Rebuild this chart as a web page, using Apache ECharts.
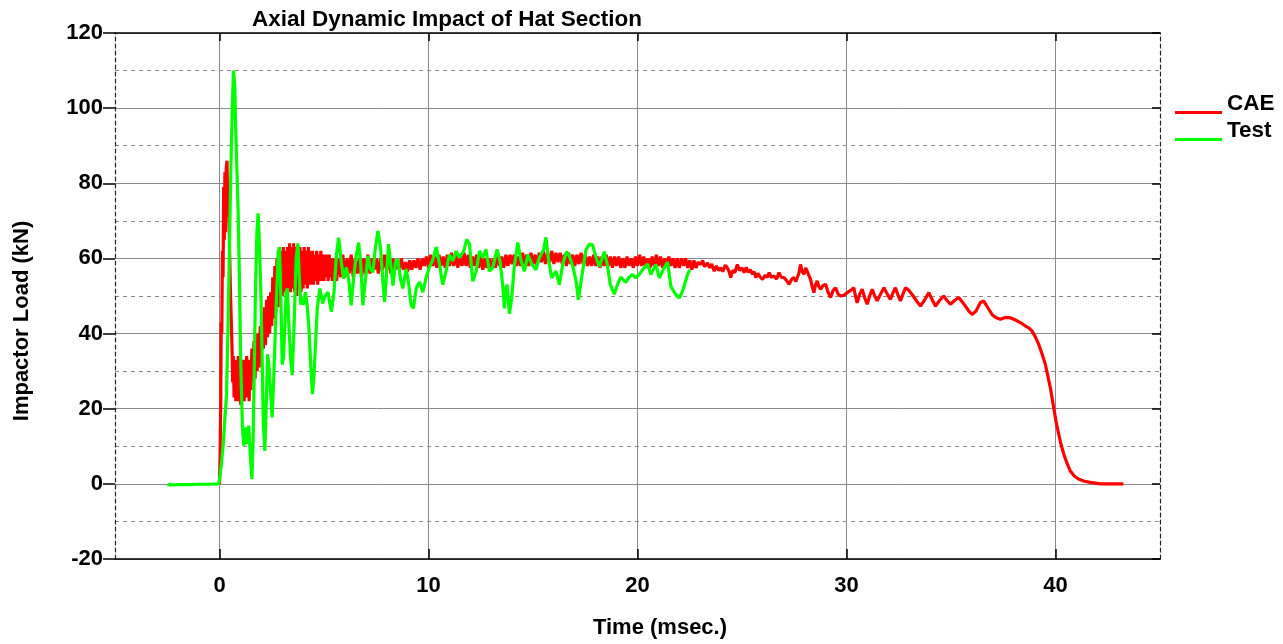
<!DOCTYPE html>
<html>
<head>
<meta charset="utf-8">
<script src="https://cdn.jsdelivr.net/npm/echarts@6/dist/echarts.min.js"></script>
<style>
html,body{margin:0;padding:0;background:#fff;}
#chart{width:1283px;height:644px;}
</style>
</head>
<body>
<div id="chart"></div>
<script>
// ---- data (time in msec., load in kN) ----
var chartTitle = 'Axial Dynamic Impact of Hat Section';
var seriesNames = ['CAE', 'Test'];
var xTickLabels = [0, 10, 20, 30, 40];
var yTickLabels = [-20, 0, 20, 40, 60, 80, 100, 120];

var caeEarly = [
[0,0],[0.03,8],[0.06,22],[0.08,43],[0.11,40],[0.14,62],[0.17,55],[0.2,79],[0.23,65],[0.26,83],[0.29,67],[0.32,84],[0.36,86],[0.4,71],[0.44,80],[0.48,63],[0.52,52],[0.56,44],[0.6,36],[0.63,27],[0.66,34],[0.7,23],[0.74,33],[0.78,22],[0.82,31],[0.86,23],[0.9,34],[0.94,22],[0.98,32],[1.02,21],[1.06,30],[1.1,23],[1.14,33],[1.18,22],[1.22,31],[1.26,23],[1.3,34],[1.34,24],[1.38,33],[1.42,22],[1.46,32],[1.5,25],[1.55,36],[1.6,27],[1.65,38],[1.7,28],[1.75,40],[1.8,30],[1.85,40],[1.9,31],[1.95,42],[2.0,33],[2.05,45],[2.1,36],[2.15,47],[2.2,37],[2.25,49],[2.3,39],[2.35,50],[2.4,40],[2.45,51],[2.5,42],[2.55,55],[2.6,44],[2.65,58],[2.7,46],[2.75,60],[2.8,47],[2.85,61],[2.9,49],[2.95,62],[3.0,50],[3.05,63],[3.1,51],[3.15,62],[3.2,50],[3.25,63],[3.3,52],[3.35,64],[3.4,51],[3.45,63],[3.5,52],[3.55,64],[3.6,51],[3.65,63],[3.7,50],[3.75,62],[3.8,52],[3.85,63],[3.9,51],[3.95,62],[4.0,52],[4.05,63],[4.1,53],[4.15,62],[4.2,52],[4.25,63],[4.3,53],[4.35,62],[4.4,53],[4.45,62],[4.5,53],[4.55,61],[4.6,54],[4.65,62],[4.7,53],[4.75,61],[4.8,54],[4.85,62],[4.9,54],[4.95,61],[5.0,54],[5.05,61],[5.1,55],[5.15,61],[5.2,54],[5.25,61],[5.3,55],[5.35,60],[5.4,54]
];
var caeMiddle = [
[5.5,60],[5.6,54],[5.7,60],[5.8,55],[5.9,61],[6.0,55],[6.1,60],[6.2,56],[6.3,61],[6.4,55],[6.5,60],[6.6,56],[6.7,60],[6.8,55],[6.9,60],[7.0,56],[7.1,61],[7.2,56],[7.3,60],[7.4,57],[7.5,60],[7.6,56],[7.7,60],[7.8,57],[7.9,61],[8.0,57],[8.1,60],[8.2,56],[8.3,60],[8.4,57],[8.5,59.5],[8.6,57],[8.7,60],[8.8,57],[8.9,59],[9.0,56.5],[9.1,59.5],[9.2,57],[9.3,59.5],[9.4,57.5],[9.5,60],[9.6,57],[9.7,60],[9.8,58],[9.9,60.5],[10.0,57.5],
[10.1,61],[10.2,58],[10.3,60.5],[10.4,57.5],[10.5,61],[10.6,58],[10.7,60.5],[10.8,57.5],[10.9,61],[11.0,58],[11.1,61.5],[11.2,58],[11.3,61],[11.4,57.5],[11.5,60.5],[11.6,58],[11.7,61.5],[11.8,58],[11.9,61],[12.0,57.5],[12.1,60.5],[12.2,58],[12.3,61],[12.4,57.5],[12.5,60.5],[12.6,57],[12.7,60],[12.8,57.5],[12.9,60],[13.0,57],[13.1,60],[13.2,57.5],[13.3,61],[13.4,58],[13.5,60.5],[13.6,57.5],[13.7,61],[13.8,58],[13.9,61],[14.0,58.5],[14.1,61],[14.2,58],[14.3,60.5],[14.4,58],[14.5,61.5],[14.6,58.5],[14.7,61],[14.8,58],[14.9,61.5],[15.0,58.5],[15.1,61],[15.2,58],[15.3,61.5],[15.4,59],[15.5,62],[15.6,58.5],[15.7,61.5],[15.8,59],[15.9,62],[16.0,58.5],[16.1,61.5],[16.2,59],[16.3,61.5],[16.4,58.5],[16.5,61],[16.6,58],[16.7,61.5],[16.8,58.5],[16.9,61],[17.0,58],[17.1,61],[17.2,58.5],[17.3,61.5],[17.4,58.5],[17.5,61],[17.6,58],[17.7,60.5],[17.8,58],[17.9,61],[18.0,58],[18.1,60.5],[18.2,57.5],[18.3,60.5],[18.4,58],[18.5,61],[18.6,58],[18.7,60.5],[18.8,57.5],[18.9,60.5],[19.0,58],[19.1,60.5],[19.2,57.5],[19.3,60],[19.4,57.5],[19.5,60.5],[19.6,58],[19.7,60],[19.8,57.5],[19.9,60.5],[20.0,58],[20.1,61],[20.2,58],[20.3,60.5],[20.4,57.5],[20.5,60],[20.6,57.5],[20.7,60.5],[20.8,58],[20.9,61],[21.0,58],[21.1,60.5],[21.2,57.5],[21.3,60],[21.4,58],[21.5,60.5],[21.6,58],[21.7,60],[21.8,57.5],[21.9,60],[22.0,57.5],[22.1,60],[22.2,58],[22.3,60],[22.4,57.5],[22.5,59.5],[22.6,57],[22.7,59.5],[22.8,57.5],[22.9,59]
];
var caeLate = [
[23.03,58.4],[23.12,59.5],[23.2,57.8],[23.35,58.8],[23.45,57.5],[23.55,58.5],[23.67,56.6],[23.78,58],[23.88,56.8],[23.98,57.5],[24.08,56.5],[24.2,58.2],[24.3,57.5],[24.38,56.5],[24.46,54.9],[24.55,56.8],[24.65,56.2],[24.78,58.4],[24.88,56.8],[25.0,57.5],[25.1,56.2],[25.2,57.6],[25.3,56.3],[25.4,57],[25.5,55.8],[25.58,56.5],[25.66,54.9],[25.76,56],[25.85,55.2],[25.98,54.4],[26.1,55.5],[26.2,55],[26.3,56.2],[26.4,55],[26.53,55.3],[26.65,54.5],[26.77,56.2],[26.88,55],[27.01,54.9],[27.12,54.2],[27.25,53.1],[27.38,54.5],[27.49,54.9],[27.57,53.8],[27.65,53.5],[27.72,56],[27.8,58.4],[27.88,56.5],[27.97,55.8],[28.05,57.5],[28.12,57],[28.2,55.5],[28.28,54.4],[28.36,52.5],[28.44,50.9],[28.52,53],[28.6,54],[28.68,52.5],[28.76,51.8],[28.88,52.8],[29.0,53.1],[29.12,51],[29.24,49.6],[29.36,51.5],[29.48,52.2],[29.6,50.5],[29.72,50],[29.88,50.2],[30.04,50.9],[30.2,51.5],[30.35,52.2],[30.43,50],[30.51,48.2],[30.63,50.5],[30.75,51.8],[30.87,49.5],[30.99,47.8],[31.11,50],[31.23,51.8],[31.35,50],[31.47,48.7],[31.63,50.5],[31.79,52.2],[31.95,50.5],[32.1,49.1],[32.22,50.8],[32.34,52.2],[32.46,50.3],[32.58,48.7],[32.7,50.5],[32.82,52.2],[32.98,51.5],[33.14,50.4],[33.34,48.8],[33.54,47.3],[33.74,49],[33.94,50.9],[34.1,49],[34.26,47.3],[34.45,48.8],[34.65,50],[34.81,48.8],[34.97,47.8],[35.17,48.8],[35.37,49.6],[35.53,48.5],[35.69,47.3],[35.85,46],[36.01,45.1],[36.2,46],[36.4,48.2],[36.56,48.7],[36.75,47],[36.96,45.1],[37.16,44.2],[37.36,43.8],[37.6,44.3],[37.84,44.2],[38.0,43.8],[38.16,43.4],[38.36,42.8],[38.56,42],[38.72,41.5],[38.87,40.7],[39.03,39.2],[39.19,37.2],[39.35,34.7],[39.51,31.9],[39.63,28.8],[39.75,25.7],[39.91,20.4],[40.03,16.5],[40.15,13.3],[40.27,10.4],[40.39,8],[40.55,5.5],[40.7,3.5],[40.9,2.1],[41.1,1.3],[41.38,0.7],[41.66,0.4],[42.14,0],[43.25,0]
];
var testPoints = [
[-2.45,-0.6],[-2.4,0],[-2.3,-0.3],[-2.0,-0.2],[-1.5,-0.2],[-1.0,-0.1],[-0.5,-0.1],[-0.05,0],[0,1],[0.1,5.7],[0.18,10.6],[0.26,17.7],[0.33,23],[0.41,42],[0.48,63.6],[0.54,83],[0.61,99.8],[0.67,110],[0.73,106],[0.77,95.4],[0.83,84],[0.89,73],[0.96,53],[1.0,37],[1.05,24.7],[1.1,15],[1.16,10.2],[1.24,15],[1.32,10.6],[1.4,15.5],[1.48,7],[1.55,1.3],[1.61,11.5],[1.66,29],[1.72,51],[1.79,67],[1.85,72],[1.91,63.6],[1.98,51],[2.04,33.6],[2.1,15.9],[2.17,8.8],[2.23,20],[2.3,34.5],[2.36,31.8],[2.44,24.7],[2.52,17.7],[2.6,29],[2.71,46.8],[2.81,61.8],[2.87,63],[2.93,51],[3.0,31.8],[3.06,33.6],[3.13,42.4],[3.19,51],[3.25,52],[3.32,42.4],[3.4,33.6],[3.48,29],[3.57,42.4],[3.67,60],[3.75,64],[3.81,55.7],[3.89,47.7],[3.96,49.5],[4.03,47.7],[4.11,51],[4.19,47.7],[4.27,42.4],[4.38,30],[4.45,23.9],[4.52,29],[4.6,38],[4.68,46.7],[4.8,52],[4.94,48],[5.04,50],[5.19,51],[5.35,45.8],[5.48,51],[5.59,60.7],[5.7,65.5],[5.83,59],[5.94,54.6],[6.07,57.6],[6.18,54.6],[6.3,47.5],[6.43,55.4],[6.54,60.7],[6.66,64.2],[6.75,59],[6.86,47.5],[6.97,53.7],[7.1,60.7],[7.21,57.2],[7.34,56.3],[7.45,62.5],[7.58,67.3],[7.71,62.5],[7.82,53.7],[7.9,48.4],[8.01,57.2],[8.09,63.8],[8.18,59],[8.3,52.8],[8.42,59],[8.53,59.8],[8.66,54.6],[8.77,52],[8.93,57.2],[9.04,53.7],[9.17,47.5],[9.28,46.7],[9.41,52],[9.57,53.7],[9.73,51],[9.89,55],[10.05,57.8],[10.2,59.5],[10.37,63],[10.53,58.4],[10.68,53],[10.84,56.6],[11.0,61],[11.16,59.3],[11.32,62],[11.48,60.2],[11.69,62],[11.83,65.1],[11.96,63.8],[12.12,53.9],[12.28,56.6],[12.44,62],[12.6,60.2],[12.75,62.4],[12.91,56.6],[13.07,57.5],[13.28,62.4],[13.42,59.3],[13.55,53],[13.63,46.7],[13.7,52],[13.76,53],[13.87,45.3],[13.98,49.4],[14.1,57.5],[14.27,64.2],[14.43,59.3],[14.59,56.6],[14.75,61],[14.95,58.4],[15.14,57],[15.3,60.2],[15.51,62.4],[15.62,65.6],[15.73,60.2],[15.89,54.8],[16.1,56.6],[16.26,53],[16.42,58.4],[16.6,61.8],[16.74,60.6],[16.9,58],[17.06,54],[17.17,49],[17.33,55],[17.53,62.2],[17.7,63.8],[17.85,63.6],[18.01,60.4],[18.17,57.8],[18.41,61.8],[18.55,58.5],[18.7,53],[18.89,50.5],[19.04,53],[19.2,55],[19.44,53.6],[19.6,55],[19.76,55.7],[19.92,54.8],[20.08,55.7],[20.24,57],[20.48,58.5],[20.64,55.7],[20.88,58.4],[21.04,54.8],[21.27,57.5],[21.44,59],[21.6,52.5],[21.83,50.4],[21.99,49.5],[22.1,50.5],[22.23,52.6],[22.39,55.7],[22.5,57]
];
var caePoints = caeEarly.concat(caeMiddle, caeLate);

var FONT = '"Liberation Sans", Arial, sans-serif';
var chart = echarts.init(document.getElementById('chart'));
var textBold = {fontFamily: FONT, fontWeight: 'bold', fontSize: 22, color: '#000'};

// legend icon: a short line drawn at the bottom of its box so the label sits above it
var legendIcon = 'path://M0,0L0.01,0L0.01,0.01L0,0.01Z M0,18L47,18L47,21L0,21Z';

function legendFor(name, top) {
  return {
    data: [name], left: 1175, top: top, orient: 'vertical', padding: 0,
    icon: legendIcon, itemWidth: 47, itemHeight: 21, itemGap: 0,
    symbolKeepAspect: false,
    textStyle: Object.assign({}, textBold, {fontSize: 22.5}),
    selectedMode: false
  };
}

chart.setOption({
  animation: false,
  backgroundColor: '#fff',
  title: {
    text: chartTitle, left: 247, top: 3,
    textStyle: Object.assign({}, textBold, {fontSize: 22.5})
  },
  legend: [legendFor('CAE', 92), legendFor('Test', 119)],
  grid: {left: 115, right: 123, top: 33, bottom: 83, containLabel: false},
  xAxis: [{
    type: 'value', min: -5, max: 45, interval: 10, position: 'bottom',
    name: 'Time (msec.)', nameLocation: 'middle', nameGap: 58,
    nameTextStyle: Object.assign({}, textBold, {padding: [0, 0, 0, 45]}),
    axisLine: {show: true, onZero: false, lineStyle: {color: '#000', width: 1.5}},
    axisTick: {show: true, inside: true, length: 10, customValues: xTickLabels, lineStyle: {color: '#000', width: 1.5}},
    axisLabel: Object.assign({}, textBold, {margin: 16, customValues: xTickLabels}),
    splitLine: {show: true, lineStyle: {type: [4, 4], color: '#8a8a8a', width: 1}},
    minorTick: {show: false, splitNumber: 2},
    minorSplitLine: {show: true, lineStyle: {type: 'solid', color: '#8a8a8a', width: 1}}
  }, {
    type: 'value', min: -5, max: 45, interval: 10, position: 'top',
    axisLine: {show: true, onZero: false, lineStyle: {color: '#000', width: 1.5}},
    axisTick: {show: true, inside: true, length: 8, customValues: xTickLabels, lineStyle: {color: '#000', width: 1.5}},
    axisLabel: {show: false},
    splitLine: {show: false}
  }],
  yAxis: [{
    type: 'value', min: -20, max: 120, interval: 20, position: 'left',
    name: 'Impactor Load (kN)', nameLocation: 'middle', nameGap: 82,
    nameTextStyle: Object.assign({}, textBold, {padding: [0, 50, 0, 0]}),
    axisLine: {show: true, onZero: false, lineStyle: {color: '#222', width: 1.2, type: [4, 3]}},
    axisTick: {show: true, length: 12, lineStyle: {color: '#000', width: 1.5}},
    axisLabel: Object.assign({}, textBold, {margin: 12}),
    splitLine: {show: true, lineStyle: {type: 'solid', color: '#8a8a8a', width: 1}},
    minorTick: {show: false, splitNumber: 2},
    minorSplitLine: {show: true, lineStyle: {type: [4, 4], color: '#8a8a8a', width: 1}}
  }, {
    type: 'value', min: -20, max: 120, interval: 20, position: 'right',
    axisLine: {show: true, onZero: false, lineStyle: {color: '#222', width: 1.2, type: [4, 3]}},
    axisTick: {show: true, inside: true, length: 8, lineStyle: {color: '#000', width: 1.5}},
    axisLabel: {show: false},
    splitLine: {show: false}
  }],
  series: [{
    name: 'CAE', type: 'line', data: caePoints, xAxisIndex: 0, yAxisIndex: 0,
    showSymbol: false, symbol: 'none', smooth: false,
    lineStyle: {color: '#ff0000', width: 3.2},
    itemStyle: {color: '#ff0000'}, z: 3
  }, {
    name: 'Test', type: 'line', data: testPoints, xAxisIndex: 0, yAxisIndex: 0,
    showSymbol: false, symbol: 'none', smooth: false,
    lineStyle: {color: '#00ff00', width: 3.2},
    itemStyle: {color: '#00ff00'}, z: 4
  }]
});
</script>
</body>
</html>
